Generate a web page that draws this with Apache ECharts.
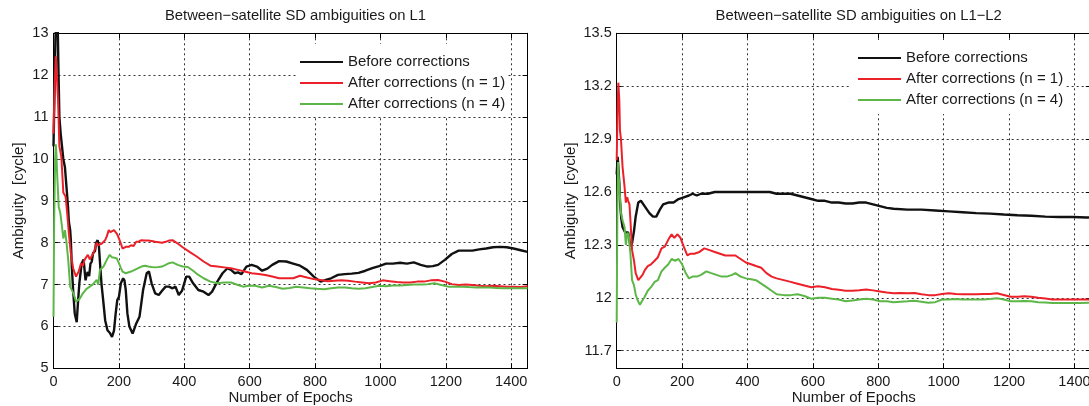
<!DOCTYPE html>
<html><head><meta charset="utf-8">
<script src="https://cdn.jsdelivr.net/npm/echarts@6/dist/echarts.min.js"></script>
<style>html,body{margin:0;padding:0;background:#fff}#c{width:1089px;height:406px}</style>
</head><body><div id="c"></div>
<script>
// ---------- DATA ----------
const seriesNames = ['Before corrections', 'After corrections (n = 1)', 'After corrections (n = 4)'];
const chartTitles = ['Between\u2212satellite SD ambiguities on L1', 'Between\u2212satellite SD ambiguities on L1\u2212L2'];
const xAxisName = 'Number of Epochs';
const yAxisName = 'Ambiguity  [cycle]';
const xTicks = [0, 200, 400, 600, 800, 1000, 1200, 1400];
const yTicksL1 = [5, 6, 7, 8, 9, 10, 11, 12, 13];
const yTicksL1L2 = [11.7, 12, 12.3, 12.6, 12.9, 13.2, 13.5];

// L1 – before corrections
const l1BeforeEpochs = [0,3,6,9,12,15,18,22,26,30,35,40,44,47,51,53,56,60,65,68,71,74,79,83,86,92,98,102,105,109,113,117,121,127,130,135,139,143,147,151,158,165,172,179,185,190,195,200,206,213,217,221,226,232,242,252,263,274,285,292,300,311,322,332,343,353,364,373,383,393,406,415,427,443,459,474,485,501,517,532,543,554,564,575,590,606,622,638,654,669,690,712,733,754,775,796,817,833,849,870,891,912,933,954,975,996,1017,1038,1060,1081,1102,1123,1144,1160,1176,1197,1218,1239,1260,1281,1302,1323,1344,1365,1386,1407,1429,1450];
const l1BeforeValues = [10.3,11.6,12.9,13.4,13.6,12.2,11.0,10.6,10.3,10.0,9.8,9.3,8.9,8.5,8.3,8.06,7.43,6.87,6.31,6.3,6.1,6.47,7.03,7.3,7.5,7.6,7.1,7.25,7.3,7.2,7.5,7.55,7.75,7.8,7.99,8.06,7.9,7.43,7.0,6.7,6.15,5.91,5.85,5.75,5.9,6.3,6.63,6.7,7.03,7.15,7.1,6.87,6.31,6.0,5.83,6.05,6.23,6.87,7.27,7.31,7.03,6.79,6.75,6.85,6.95,6.95,6.91,6.95,6.75,6.85,7.19,7.19,7.03,6.87,6.83,6.75,6.83,7.07,7.27,7.39,7.35,7.27,7.29,7.25,7.43,7.47,7.43,7.33,7.38,7.47,7.56,7.55,7.5,7.45,7.35,7.19,7.07,7.11,7.15,7.23,7.25,7.26,7.28,7.33,7.39,7.44,7.5,7.5,7.52,7.5,7.53,7.47,7.43,7.44,7.47,7.59,7.73,7.81,7.81,7.81,7.84,7.86,7.89,7.9,7.89,7.86,7.82,7.78];

// L1 – after corrections (n = 1)
const l1N1Epochs = [0,3,7,10,14,18,24,30,37,42,47,53,60,69,77,84,90,95,100,105,111,116,122,127,132,137,148,158,163,169,174,179,185,190,195,200,206,211,216,221,230,237,245,253,261,269,280,290,300,311,322,332,343,353,364,372,380,395,416,438,459,480,501,522,543,564,585,606,627,648,669,690,712,733,754,775,796,817,838,859,880,901,922,944,965,986,1007,1028,1049,1070,1091,1112,1133,1154,1176,1197,1218,1239,1260,1281,1302,1323,1344,1365,1386,1407,1429,1450];
const l1N1Values = [10.6,11.6,12.45,12.0,11.4,10.3,10.05,9.2,9.1,8.7,8.22,7.75,7.39,7.19,7.31,7.5,7.45,7.59,7.55,7.71,7.6,7.67,7.75,7.86,8.0,7.94,7.98,8.06,8.15,8.3,8.25,8.22,8.3,8.3,8.2,8.1,7.98,7.86,7.85,7.9,7.9,7.94,7.92,8.02,8.03,8.06,8.05,8.05,8.04,8.02,8.01,8.0,8.02,8.05,8.06,8.02,7.98,7.89,7.78,7.67,7.55,7.45,7.43,7.41,7.39,7.35,7.31,7.27,7.25,7.23,7.19,7.15,7.15,7.15,7.21,7.17,7.13,7.11,7.08,7.09,7.1,7.09,7.07,7.05,7.03,7.05,7.1,7.08,7.06,7.05,7.05,7.07,7.07,7.1,7.11,7.07,7.01,6.99,7.0,6.99,6.97,6.96,6.97,6.96,6.95,6.95,6.94,6.96];

// L1 – after corrections (n = 4)
const l1N4Epochs = [0,2,5,7,9,11,16,21,26,30,35,39,45,51,56,61,69,74,81,90,100,111,121,132,137,142,153,163,172,179,185,193,200,206,211,221,237,253,269,280,290,300,311,322,332,343,353,364,380,395,411,427,443,459,480,501,522,543,564,580,596,617,638,659,680,701,722,743,764,785,806,828,849,870,891,912,933,954,975,996,1017,1038,1060,1081,1102,1123,1144,1165,1186,1207,1228,1249,1270,1292,1313,1334,1355,1376,1397,1418,1450];
const l1N4Values = [6.23,8.5,10.0,10.35,10.1,9.66,8.86,8.7,8.38,8.1,8.3,8.06,7.59,6.95,6.95,6.79,6.59,6.55,6.67,6.79,6.89,6.95,7.01,7.11,7.0,7.35,7.43,7.59,7.71,7.65,7.67,7.63,7.51,7.4,7.31,7.27,7.31,7.37,7.43,7.45,7.43,7.42,7.41,7.42,7.43,7.47,7.51,7.53,7.47,7.43,7.42,7.33,7.23,7.15,7.07,7.03,7.05,7.05,6.99,6.95,6.97,6.97,6.93,6.97,6.94,6.9,6.92,6.95,6.93,6.91,6.9,6.89,6.91,6.93,6.93,6.91,6.9,6.91,6.94,6.97,6.96,6.98,6.98,6.99,7.0,7.0,7.01,7.03,6.99,6.95,6.95,6.95,6.94,6.93,6.93,6.93,6.92,6.91,6.91,6.91,6.91];

// L1-L2 – before corrections
const l12BeforeEpochs = [0,3,5,8,10,14,18,26,35,42,47,53,58,66,74,79,89,100,111,121,132,142,158,174,189,205,221,232,245,258,279,300,321,342,363,384,405,426,447,468,489,511,532,553,574,595,616,637,658,679,700,721,742,763,784,805,826,847,889,932,974,1016,1058,1100,1142,1184,1226,1268,1311,1353,1395,1437,1450];
const l12BeforeValues = [12.7,12.8,12.8,12.65,12.55,12.45,12.4,12.37,12.37,12.29,12.31,12.38,12.46,12.54,12.55,12.54,12.51,12.48,12.46,12.46,12.5,12.53,12.54,12.54,12.56,12.57,12.58,12.59,12.58,12.59,12.59,12.6,12.6,12.6,12.6,12.6,12.6,12.6,12.6,12.6,12.59,12.59,12.59,12.58,12.57,12.56,12.55,12.55,12.54,12.54,12.535,12.535,12.54,12.54,12.53,12.52,12.51,12.505,12.5,12.5,12.495,12.49,12.485,12.48,12.477,12.472,12.468,12.465,12.46,12.458,12.458,12.455,12.455];

// L1-L2 – after corrections (n = 1)
const l12N1Epochs = [0,3,5,8,10,13,18,24,28,32,35,39,42,47,53,58,66,72,79,87,95,105,116,126,137,147,158,168,176,186,195,205,216,226,237,253,268,284,300,316,332,347,363,379,395,411,426,442,458,474,489,511,532,553,574,595,616,637,658,679,700,721,742,763,784,805,826,847,868,889,911,932,953,974,995,1016,1037,1058,1079,1100,1121,1142,1163,1184,1205,1226,1247,1268,1289,1311,1332,1353,1374,1395,1416,1450];
const l12N1Values = [12.78,13.1,13.22,13.12,12.95,12.9,12.74,12.63,12.54,12.57,12.55,12.53,12.44,12.27,12.21,12.14,12.1,12.09,12.13,12.16,12.18,12.19,12.21,12.23,12.28,12.29,12.33,12.36,12.34,12.36,12.34,12.29,12.24,12.25,12.25,12.26,12.28,12.27,12.26,12.25,12.24,12.24,12.24,12.22,12.2,12.19,12.18,12.17,12.14,12.12,12.11,12.1,12.09,12.08,12.07,12.06,12.065,12.06,12.05,12.045,12.04,12.04,12.043,12.047,12.042,12.036,12.03,12.025,12.027,12.026,12.027,12.02,12.015,12.015,12.022,12.026,12.022,12.02,12.02,12.02,12.022,12.022,12.026,12.016,12.006,12.006,12.009,12.006,12.0,11.996,11.99,11.99,11.99,11.99,11.99,11.99];

// L1-L2 – after corrections (n = 4)
const l12N4Epochs = [0,2,4,8,13,18,24,28,33,37,42,47,53,58,63,71,77,84,95,105,116,126,137,147,158,168,179,189,200,211,221,232,245,258,274,289,305,321,337,353,363,379,395,411,426,442,458,474,489,511,532,553,574,595,616,637,658,679,700,721,742,763,784,805,826,847,868,889,911,932,953,974,995,1016,1037,1058,1079,1100,1121,1142,1163,1184,1205,1226,1247,1268,1289,1311,1332,1353,1374,1395,1416,1450];
const l12N4Values = [11.86,12.5,12.77,12.63,12.48,12.44,12.4,12.3,12.37,12.35,12.25,12.1,12.07,12.02,11.99,11.96,11.98,12.0,12.04,12.06,12.09,12.1,12.15,12.17,12.19,12.22,12.21,12.22,12.19,12.14,12.11,12.12,12.12,12.13,12.15,12.14,12.13,12.12,12.12,12.13,12.14,12.12,12.11,12.105,12.1,12.08,12.06,12.04,12.02,12.015,12.015,12.02,12.01,11.995,12.0,12.0,11.995,11.99,11.98,11.985,11.99,11.995,11.99,11.98,11.98,11.975,11.978,11.98,11.983,11.978,11.972,11.975,11.99,11.99,11.993,11.99,11.99,11.99,11.99,11.993,11.997,11.99,11.98,11.98,11.982,11.98,11.975,11.973,11.97,11.97,11.97,11.97,11.97,11.972];

// ---------- STYLE ----------
const FONT = '"Liberation Sans", Arial, Helvetica, sans-serif';
const TXT = '#1a1a1a';
const colors = ['#111111', '#ec2028', '#5db748'];
const grids = [
  {left: 53.5, top: 33.3, width: 474.1, height: 335},
  {left: 616.7, top: 33.3, width: 474.1, height: 335}
];
const pairs = (xs, ys) => xs.map((x, i) => [x, ys[i]]);
const plain = v => String(v);

function xAxes(gi) {
  const base = {
    gridIndex: gi, type: 'value', min: 0, max: 1450, interval: 200,
    axisLine: {show: true, onZero: false, lineStyle: {color: '#000', width: 1}},
    axisTick: {show: true, inside: true, length: 5, customValues: xTicks, lineStyle: {color: '#000'}}
  };
  return [
    Object.assign({}, base, {
      position: 'bottom',
      name: xAxisName, nameLocation: 'middle', nameGap: 22, nameMoveOverlap: false,
      nameTextStyle: {fontSize: 15, color: TXT, fontFamily: FONT, verticalAlign: 'top'},
      axisLabel: {show: true, customValues: xTicks, formatter: plain, margin: 6, fontSize: 14.5, color: TXT, fontFamily: FONT, verticalAlign: 'top'},
      splitLine: {show: true, lineStyle: {color: '#333', width: 1, type: [2, 3]}}
    }),
    Object.assign({}, base, {
      position: 'top', axisLabel: {show: false}, splitLine: {show: false}
    })
  ];
}
function yAxes(gi, min, max, ticks, gap) {
  const base = {
    gridIndex: gi, type: 'value', min: min, max: max,
    axisLine: {show: true, onZero: false, lineStyle: {color: '#000', width: 1}},
    axisTick: {show: true, inside: true, length: 5, customValues: ticks, lineStyle: {color: '#000'}}
  };
  return [
    Object.assign({}, base, {
      position: 'left',
      name: yAxisName, nameLocation: 'middle', nameGap: gap, nameMoveOverlap: false,
      nameTextStyle: {fontSize: 15, color: TXT, fontFamily: FONT},
      axisLabel: {show: true, customValues: ticks, formatter: plain, margin: 5, fontSize: 14.5, color: TXT, fontFamily: FONT},
      splitLine: {show: true, lineStyle: {color: '#333', width: 1, type: [2, 3]}}
    }),
    Object.assign({}, base, {
      position: 'right', axisLabel: {show: false}, splitLine: {show: false}
    })
  ];
}

const datasets = [
  [pairs(l1BeforeEpochs, l1BeforeValues), pairs(l1N1Epochs, l1N1Values), pairs(l1N4Epochs, l1N4Values)],
  [pairs(l12BeforeEpochs, l12BeforeValues), pairs(l12N1Epochs, l12N1Values), pairs(l12N4Epochs, l12N4Values)]
];
const series = [];
datasets.forEach((set, gi) => {
  set.forEach((d, si) => {
    series.push({
      type: 'line', name: seriesNames[si], data: d,
      xAxisIndex: gi * 2, yAxisIndex: gi * 2,
      symbol: 'none', showSymbol: false, smooth: false, clip: true, animation: false,
      lineStyle: {color: colors[si], width: si === 0 ? 2.4 : 2},
      itemStyle: {color: colors[si]},
      z: 3 + si
    });
  });
});

const legendBase = {
  orient: 'vertical', icon: 'rect', itemWidth: 43, itemHeight: 2, itemGap: 5,
  backgroundColor: '#ffffff', borderWidth: 0, selectedMode: false,
  textStyle: {fontSize: 15, color: TXT, fontFamily: FONT, lineHeight: 16},
  data: seriesNames
};

const option = {
  animation: false,
  backgroundColor: '#ffffff',
  color: colors,
  title: [
    {text: chartTitles[0], left: 290.5, top: 3, textAlign: 'center',
     textStyle: {fontSize: 14.8, fontWeight: 'normal', color: TXT, fontFamily: FONT}},
    {text: chartTitles[1], left: 853.7, top: 3, textAlign: 'center',
     textStyle: {fontSize: 14.8, fontWeight: 'normal', color: TXT, fontFamily: FONT}}
  ],
  legend: [
    Object.assign({}, legendBase, {left: 297, top: 44, padding: [10, 3, 5, 3]}),
    Object.assign({}, legendBase, {left: 850, top: 40, padding: [10, 3, 6, 8]})
  ],
  grid: grids.map(g => Object.assign({show: false, containLabel: false, outerBoundsMode: 'none'}, g)),
  xAxis: xAxes(0).concat(xAxes(1)),
  yAxis: yAxes(0, 5, 13, yTicksL1, 27).concat(yAxes(1, 11.6, 13.5, yTicksL1L2, 38)),
  series: series
};

const chart = echarts.init(document.getElementById('c'), null, {renderer: 'canvas'});
chart.setOption(option);
</script>
</body></html>
